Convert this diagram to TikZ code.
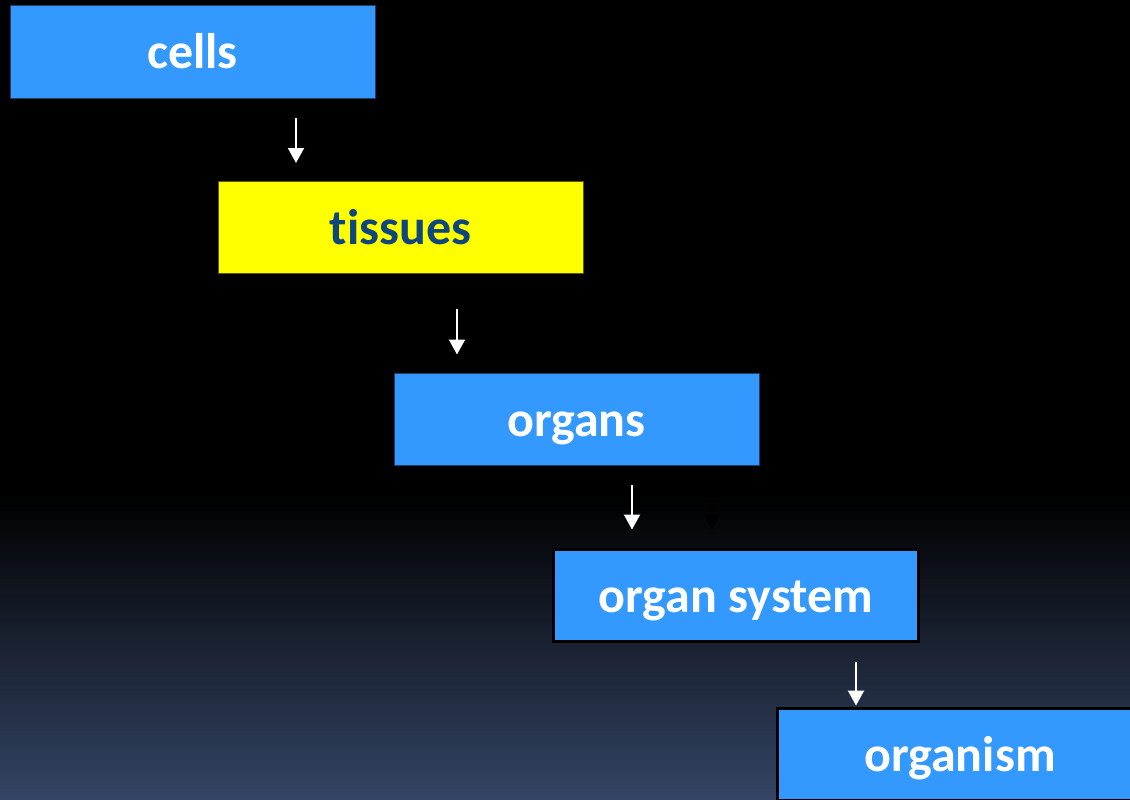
\documentclass[tikz,border=0pt]{standalone}
\usepackage{fontspec}
\setmainfont[Ligatures=NoCommon]{Carlito}
\usetikzlibrary{positioning,arrows.meta}
\definecolor{boxblue}{RGB}{51,153,255}
\definecolor{boxedge}{RGB}{30,60,100}
\definecolor{hlfill}{RGB}{255,255,0}
\definecolor{hledge}{RGB}{90,90,20}
\definecolor{tissuetext}{RGB}{14,70,125}
\definecolor{bgtop}{RGB}{0,0,0}
\definecolor{bgbot}{RGB}{52,68,100}

\begin{document}
\begin{tikzpicture}[x=1pt,y=1pt,on grid,>={Triangle[width=16pt,length=15pt]},
  font=\fontsize{50}{60}\selectfont\bfseries,
  bx/.style={draw=boxedge,line width=1pt,fill=boxblue,text=white,minimum width=365pt,
    minimum height=92pt,inner sep=0pt,text height=44pt,text depth=10pt},
  hl/.style={bx,draw=hledge,fill=hlfill,text=tissuetext},
  dk/.style={bx,draw=black,line width=3pt},
  ar/.style={->,white,line width=2pt}]
\useasboundingbox (0,0) rectangle (1130,-800);
% background
\fill[black] (0,0) rectangle (1130,-495);
\shade[top color=bgtop,bottom color=bgbot] (0,-495) rectangle (1130,-800);
% levels
\node[bx] (cells) at (192.5,-52) {cells};
\node[hl,below right=175.5pt and 208pt of cells] (tissues) {tissues};
\node[bx,below right=192pt and 176pt of tissues] (organs) {organs};
\node[dk,below right=176pt and 159.5pt of organs] (orgsys) {organ system};
\node[dk,below right=159pt and 224pt of orgsys] (organism) {organism};
% arrows
\draw[ar] ([xshift=103.5pt,yshift=-19pt]cells.south) -- ([xshift=-104.5pt,yshift=18pt]tissues.north);
\draw[ar] ([xshift=56.5pt,yshift=-34.5pt]tissues.south) -- ([xshift=-119.5pt,yshift=18.5pt]organs.north);
\draw[ar] ([xshift=55.5pt,yshift=-18.5pt]organs.south) -- ([xshift=-104pt,yshift=18.5pt]orgsys.north);
\draw[ar,black] ([xshift=135.5pt,yshift=-18.5pt]organs.south) -- ([xshift=-24pt,yshift=18.5pt]orgsys.north);
\draw[ar] ([xshift=120pt,yshift=-18.5pt]orgsys.south) -- ([xshift=-104pt,yshift=1.5pt]organism.north);
\end{tikzpicture}
\end{document}
